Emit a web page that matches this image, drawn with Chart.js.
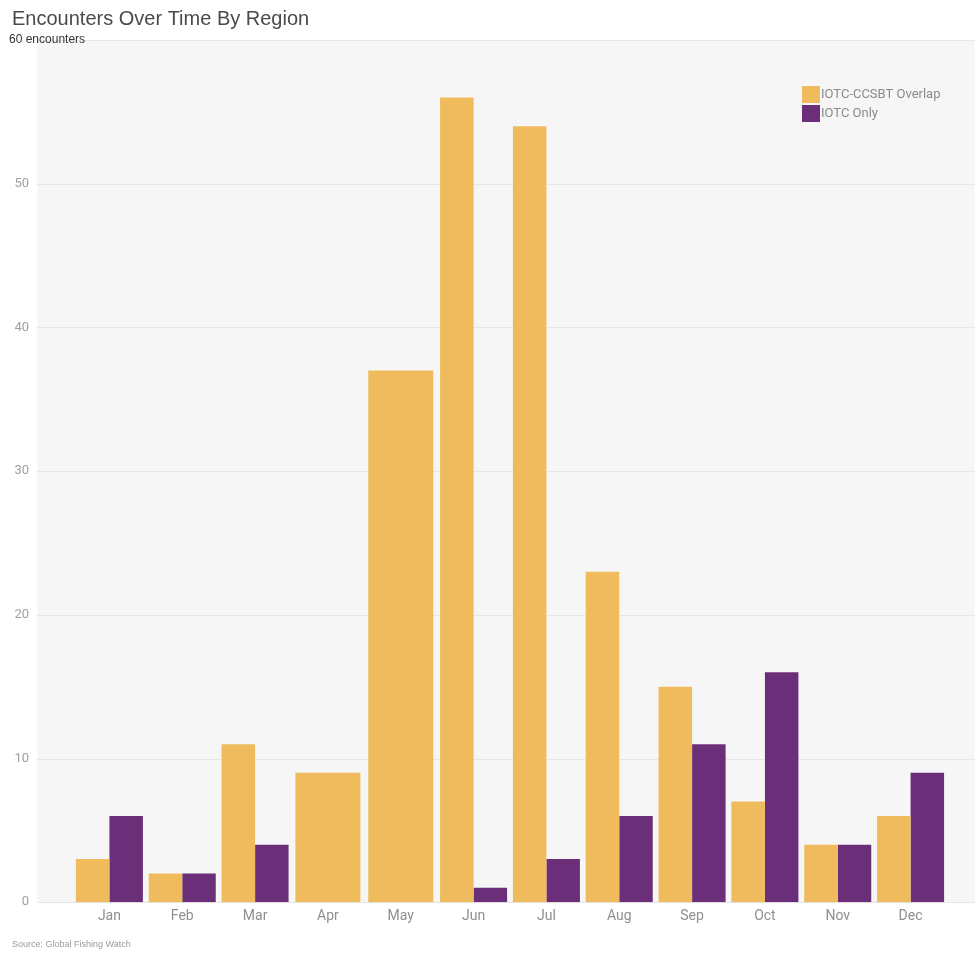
<!DOCTYPE html>
<html>
<head>
<meta charset="utf-8">
<script src="https://cdn.jsdelivr.net/npm/chart.js@4"></script>
<style>
  body { margin: 0; background: #fff; }
  #wrap { width: 975px; height: 958px; }
</style>
</head>
<body>
<div id="wrap"><canvas id="chartRegion" width="975" height="958"></canvas></div>
<script>
const months = ['Jan', 'Feb', 'Mar', 'Apr', 'May', 'Jun', 'Jul', 'Aug', 'Sep', 'Oct', 'Nov', 'Dec'];
const overlap = [3, 2, 11, 9, 37, 56, 54, 23, 15, 7, 4, 6];
const iotcOnly = [6, 2, 4, null, null, 1, 3, 6, 11, 16, 4, 9];
const yTicks = [0, 10, 20, 30, 40, 50, 60];

const orange = '#efbb5d';
const purple = '#6b2f7a';

// months without an IOTC Only bar get one full width orange bar
const overlapPaired = overlap.map((v, i) => (iotcOnly[i] === null ? null : v));
const overlapAlone = overlap.map((v, i) => (iotcOnly[i] === null ? v : null));

const backdrop = {
  id: 'backdrop',
  beforeDraw(chart) {
    const ctx = chart.ctx;
    const y = chart.scales.y;
    const top = y.getPixelForValue(60);
    const bottom = y.getPixelForValue(0);
    ctx.save();
    ctx.fillStyle = '#f6f6f6';
    ctx.fillRect(37, top, chart.width - 37, bottom - top);
    ctx.strokeStyle = '#e6e6e6';
    ctx.lineWidth = 1;
    yTicks.forEach((t) => {
      const py = Math.round(y.getPixelForValue(t)) + 0.5;
      ctx.beginPath();
      ctx.moveTo(37, py);
      ctx.lineTo(chart.width, py);
      ctx.stroke();
    });
    ctx.restore();
  },
  afterDraw(chart) {
    const ctx = chart.ctx;
    const y = chart.scales.y;
    ctx.save();
    ctx.fillStyle = '#4a4a4a';
    ctx.font = '20px "Liberation Sans", Arial, sans-serif';
    ctx.textBaseline = 'alphabetic';
    ctx.fillText('Encounters Over Time By Region', 12, 25);
    ctx.fillStyle = '#333';
    ctx.font = '12px "Liberation Sans", Arial, sans-serif';
    ctx.textBaseline = 'middle';
    ctx.fillText('60 encounters', 9, y.getPixelForValue(60));
    ctx.fillStyle = '#9a9a9a';
    ctx.font = '9px "Liberation Sans", Arial, sans-serif';
    ctx.fillText('Source: Global Fishing Watch', 12, 945);

    // legend
    const items = [['IOTC-CCSBT Overlap', orange], ['IOTC Only', purple]];
    ctx.font = '13px Roboto, sans-serif';
    items.forEach((it, i) => {
      const ly = 86 + i * 19;
      ctx.fillStyle = it[1];
      ctx.fillRect(802, ly, 18, 17);
      ctx.fillStyle = '#8a8a8a';
      ctx.fillText(it[0], 821, ly + 9);
    });
    ctx.restore();
  },
};

const ctx = document.getElementById('chartRegion').getContext('2d');
const chartRegion = new Chart(ctx, {
  type: 'bar',
  data: {
    labels: months,
    datasets: [
      {
        label: 'IOTC-CCSBT Overlap',
        data: overlapPaired,
        backgroundColor: orange,
        borderWidth: 0,
        categoryPercentage: 0.92,
        barPercentage: 1,
      },
      {
        label: 'IOTC Only',
        data: iotcOnly,
        backgroundColor: purple,
        borderWidth: 0,
        categoryPercentage: 0.92,
        barPercentage: 1,
      },
      {
        label: 'IOTC-CCSBT Overlap',
        data: overlapAlone,
        backgroundColor: orange,
        borderWidth: 0,
        grouped: false,
        categoryPercentage: 0.92,
        barPercentage: 0.97,
      },
    ],
  },
  plugins: [backdrop],
  options: {
    responsive: false,
    animation: false,
    layout: { padding: { top: 40, left: 14, right: 28, bottom: 27 } },
    plugins: {
      legend: { display: false },
      tooltip: { enabled: false },
    },
    scales: {
      x: {
        grid: { display: false, drawTicks: false },
        border: { display: false },
        ticks: { color: '#8f8f8f', font: { family: 'Roboto', size: 14 }, padding: 6 },
      },
      y: {
        min: 0,
        max: 60,
        grid: { display: false, drawTicks: false },
        border: { display: false },
        afterFit: (scale) => {
          scale.width = 59;
          scale.paddingTop = 0;
          scale.paddingBottom = 0;
        },
        ticks: {
          stepSize: 10,
          padding: 44,
          color: '#a0a0a0',
          font: { family: 'Roboto', size: 13 },
          callback: (v) => (v === 60 ? '' : v),
        },
      },
    },
  },
});
</script>
</body>
</html>
